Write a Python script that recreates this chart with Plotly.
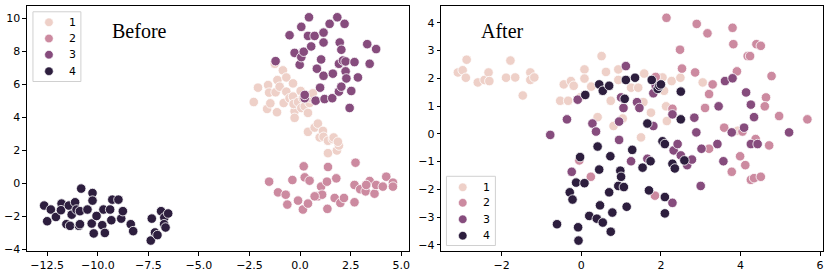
import plotly.graph_objects as go

labels = ["1", "2", "3", "4"]
colors = ["#eed0c8", "#cc8aa0", "#864c7d", "#2d1e3e"]

# ---------- Before ----------
b1_x = [-2.29,-2.08,-1.63,-1.58,-1.53,-1.47,-1.21,-1.14,-1.12,-1.25,-1.01,-0.85,-0.81,-0.68,-0.68,-0.52,-0.35,-0.30,-0.27,-0.35,-0.32,-0.27,-0.10,0.03,0.06,0.14,0.23,0.27,0.39,0.47,0.55,0.63,0.39,0.72,0.88,0.97,1.13,1.16,1.38,1.38,1.62,1.66,1.82,1.92,1.87]
b1_y = [4.94,5.81,4.52,5.97,5.51,4.86,5.53,4.32,6.27,7.26,5.87,6.86,4.88,6.43,5.57,5.17,6.07,5.08,4.38,5.27,4.82,3.98,4.94,5.61,4.58,5.17,4.68,5.37,4.28,4.88,5.17,5.47,3.13,3.39,3.63,2.79,3.19,2.83,1.84,2.59,2.69,2.79,2.00,2.30,2.53]
b2_x = [-1.53,-1.09,-0.71,-0.63,-0.38,-0.10,0.18,0.23,0.14,0.47,0.39,0.88,1.04,1.09,1.38,1.33,1.35,1.71,1.79,1.99,2.17,2.69,2.74,2.69,2.97,3.24,3.44,3.68,3.76,4.09,4.26,4.59,4.59,3.27,0.72]
b2_y = [0.11,-0.54,-0.68,-1.28,0.21,-1.04,1.04,0.37,-1.58,0.17,-1.22,-0.78,-0.19,-0.68,1.00,0.11,-1.54,-0.88,0.31,-1.18,-0.88,-1.14,1.26,-0.09,-0.35,-0.48,0.15,-0.62,-0.09,-0.19,0.41,0.05,-0.19,-0.09,-0.78]
b3_x = [-1.21,-0.52,-0.27,0.06,-0.02,0.06,0.18,0.23,0.23,0.44,0.39,0.55,0.72,0.77,0.83,0.99,1.04,1.16,1.16,1.16,1.21,1.46,1.59,1.62,1.84,1.92,1.96,2.04,1.92,2.04,2.20,2.12,2.25,2.25,2.29,2.45,2.53,2.69,2.86,3.32,3.44,3.76]
b3_y = [7.42,8.99,7.92,9.50,7.20,7.66,7.99,5.17,5.37,10.08,8.95,8.31,8.95,5.02,6.96,5.81,7.52,9.15,8.55,6.53,5.12,9.68,5.17,6.66,10.08,7.26,8.55,8.11,5.57,5.87,9.68,7.46,7.40,6.80,6.37,4.58,5.61,7.36,6.43,8.45,7.26,8.15]
b4_x = [-12.65,-12.50,-12.32,-12.07,-11.79,-11.82,-11.55,-11.43,-11.37,-11.29,-11.12,-11.05,-10.93,-10.88,-10.82,-10.88,-10.51,-10.26,-10.26,-10.30,-10.20,-10.06,-9.78,-9.65,-9.72,-9.39,-9.33,-9.28,-8.98,-8.84,-8.76,-8.37,-8.25,-7.33,-7.38,-7.17,-7.05,-6.87,-6.71,-6.72,-6.65,-6.52]
b4_y = [-1.34,-2.29,-1.58,-2.03,-1.22,-1.62,-2.47,-1.34,-2.57,-1.89,-1.14,-1.58,-2.57,-2.47,-0.31,-1.68,-1.58,-0.58,-1.04,-2.43,-3.03,-1.97,-2.53,-3.00,-1.58,-1.58,-2.23,-0.98,-0.98,-2.13,-1.68,-2.47,-2.89,-2.13,-3.46,-2.97,-3.13,-1.68,-2.07,-2.47,-2.67,-1.82]

# ---------- After ----------
a1_x = [-3.10,-2.98,-2.88,-2.90,-2.60,-2.43,-2.33,-2.31,-1.78,-1.89,-1.66,-1.47,-1.28,-1.28,-1.18,-0.53,-0.44,-0.33,-0.26,-0.19,-0.03,0.08,0.08,0.25,0.41,0.51,0.62,0.74,0.81,0.93,0.93,1.04,1.25,1.43,1.50,1.56,1.58,1.75,2.04,2.08,2.13,2.15,2.27,2.49,3.05,3.93]
a1_y = [2.21,2.29,2.67,2.02,1.85,1.94,2.21,1.90,2.64,2.02,2.03,1.38,2.21,1.94,2.03,1.19,1.78,1.19,1.90,1.73,1.31,2.32,1.99,1.70,0.60,2.80,2.23,1.19,0.28,2.32,1.94,0.55,1.66,1.66,-0.13,1.14,2.17,0.76,2.03,1.55,0.99,0.46,1.90,2.02,1.85,0.11]
a2_x = [2.14,2.90,3.17,3.80,3.82,2.48,4.18,4.24,4.40,4.51,2.53,2.86,3.30,3.91,4.78,1.87,3.21,4.64,4.61,3.11,4.97,5.68,2.29,3.59,4.05,3.21,3.99,4.12,4.38,4.72,3.78,4.26,4.34,4.51,0.24,-0.05,1.85]
a2_y = [4.18,3.96,3.62,3.82,3.23,3.03,2.80,2.80,3.23,3.17,2.35,2.21,1.78,2.25,2.08,2.05,1.43,1.31,0.99,0.93,0.64,0.52,0.90,0.22,0.08,-0.54,-0.81,-1.13,-0.19,-0.42,-1.37,-1.66,-1.60,-1.55,-1.55,-0.96,-2.23]
a3_x = [-0.78,-0.36,-0.09,-0.24,0.28,0.37,0.95,0.95,1.00,1.06,1.12,1.25,1.40,1.46,1.66,1.81,1.81,1.87,2.29,2.32,2.42,2.50,2.66,2.78,2.84,2.89,3.02,3.00,3.42,3.45,3.57,3.61,3.80,3.78,4.09,4.14,4.26,4.26,4.34,4.43,5.22,2.29]
a3_y = [-0.04,0.52,1.23,-1.37,0.37,0.08,-0.22,0.44,1.31,0.93,2.44,-0.99,1.14,0.93,-0.90,0.28,1.46,1.73,0.70,-0.60,-0.37,-0.78,-1.13,-0.93,0.58,0.05,-0.54,-1.88,-0.37,0.99,-0.99,1.90,2.00,0.05,0.22,1.49,1.05,-0.37,0.60,-0.37,0.05,-2.49]
a4_x = [-0.61,-0.29,-0.22,-0.13,-0.08,-0.07,-0.03,0.08,0.10,0.20,0.39,0.41,0.45,0.45,0.47,0.54,0.54,0.70,0.70,0.73,0.74,0.78,0.93,0.98,1.00,1.07,1.09,1.12,1.14,1.28,1.35,1.54,1.66,1.70,1.74,1.77,1.92,1.96,2.00,2.04,2.10,2.10,2.10,2.29,2.35,2.50,2.50,2.59]
a4_y = [-3.26,-2.11,-2.37,-1.76,-3.37,-3.85,-0.84,-1.78,1.40,-2.96,-3.06,-0.46,1.78,-1.29,-2.58,1.55,-3.20,1.73,-2.11,-0.81,-3.53,-2.84,-1.88,-1.33,-1.55,-1.92,1.26,1.94,-2.63,-0.58,2.02,-1.22,0.37,-2.04,-0.99,1.94,1.62,1.73,1.78,-0.27,-0.37,-2.28,-2.87,-1.08,-1.25,1.52,0.52,-0.96]

before = [(b1_x, b1_y), (b2_x, b2_y), (b3_x, b3_y), (b4_x, b4_y)]
after = [(a1_x, a1_y), (a2_x, a2_y), (a3_x, a3_y), (a4_x, a4_y)]

W, H = 830, 279
def fx(px):
    return px / W
def fy(py):
    return 1 - py / H

fig = go.Figure()
for i, (xs, ys) in enumerate(before):
    fig.add_trace(go.Scatter(x=xs, y=ys, mode="markers", name=labels[i], showlegend=False,
                             marker=dict(color=colors[i], size=9.5, line=dict(color="white", width=0.8)),
                             xaxis="x", yaxis="y"))
for i, (xs, ys) in enumerate(after):
    fig.add_trace(go.Scatter(x=xs, y=ys, mode="markers", name=labels[i], showlegend=False,
                             marker=dict(color=colors[i], size=9.5, line=dict(color="white", width=0.8)),
                             xaxis="x2", yaxis="y2"))

axis_common = dict(showgrid=False, zeroline=False, showline=True, linecolor="black", linewidth=1,
                   mirror=True, ticks="outside", ticklen=3.5, tickwidth=0.8, tickcolor="black",
                   tickfont=dict(family="DejaVu Sans", size=11, color="black"))

shapes = []
annotations = [
    dict(text="Before", x=-7.92, y=9.22, xref="x", yref="y", showarrow=False,
         font=dict(family="Liberation Serif", size=20, color="black")),
    dict(text="After", x=-1.98, y=3.69, xref="x2", yref="y2", showarrow=False,
         font=dict(family="Liberation Serif", size=20, color="black")),
]

def add_legend(box, marker_x, text_x, ys):
    x0, y0, x1, y1 = box
    shapes.append(dict(type="rect", xref="paper", yref="paper", x0=fx(x0), x1=fx(x1), y0=fy(y1), y1=fy(y0),
                       line=dict(color="#d0d0d0", width=1), fillcolor="rgba(255,255,255,0.8)", layer="above"))
    for i, yy in enumerate(ys):
        shapes.append(dict(type="circle", xref="paper", yref="paper", xsizemode="pixel", ysizemode="pixel",
                           xanchor=fx(marker_x), yanchor=fy(yy), x0=-4.3, x1=4.3, y0=-4.3, y1=4.3,
                           fillcolor=colors[i], line=dict(color="white", width=0.6), layer="above"))
        annotations.append(dict(text=labels[i], xref="paper", yref="paper", x=fx(text_x), y=fy(yy),
                                showarrow=False, xanchor="center", yanchor="middle",
                                font=dict(family="DejaVu Sans", size=11, color="black")))

add_legend((33, 12, 81, 83), 49, 73, [22.7, 39.2, 55.7, 72.5])
add_legend((447, 179.5, 496, 250), 463.3, 486.7, [190.7, 206.5, 223.3, 240])

fig.update_layout(
    width=W, height=H, margin=dict(l=0, r=0, t=0, b=0),
    plot_bgcolor="white", paper_bgcolor="white", showlegend=False,
    xaxis=dict(domain=[fx(27), fx(409)], range=[-13.5, 5.36], tickvals=[-12.5,-10,-7.5,-5,-2.5,0,2.5,5],
               tickformat=".1f", anchor="y", **axis_common),
    yaxis=dict(domain=[fy(256), fy(6)], range=[-4.12, 10.77], tickvals=[-4,-2,0,2,4,6,8,10],
               anchor="x", **axis_common),
    xaxis2=dict(domain=[fx(441.7), fx(824.3)], range=[-3.52, 6.08], tickvals=[-2,0,2,4,6],
                anchor="y2", **axis_common),
    yaxis2=dict(domain=[fy(256), fy(6)], range=[-4.24, 4.61], tickvals=[-4,-3,-2,-1,0,1,2,3,4],
                anchor="x2", **axis_common),
    shapes=shapes,
    annotations=annotations,
)

fig.write_html("out.html", config={"displayModeBar": False},
               post_script="document.body.style.margin='0';")
